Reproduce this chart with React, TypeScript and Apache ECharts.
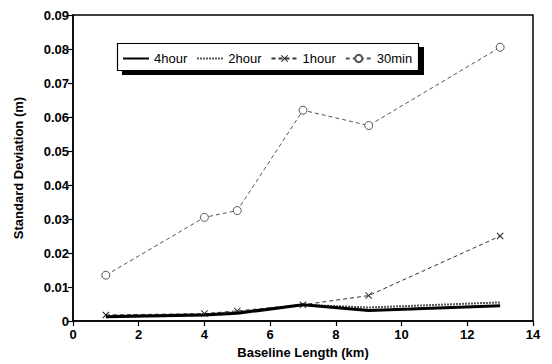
import React, { useEffect, useRef } from "react";
import * as echarts from "echarts";

const baseline = [1, 4, 5, 7, 9, 13];
const fourHour = [0.0013, 0.0018, 0.0023, 0.0048, 0.0031, 0.0045];
const twoHour = [0.0015, 0.002, 0.0026, 0.0048, 0.004, 0.0055];
const oneHour = [0.0018, 0.0022, 0.003, 0.0048, 0.0075, 0.025];
const thirtyMin = [0.0135, 0.0305, 0.0325, 0.062, 0.0575, 0.0805];
const seriesNames = ["4hour", "2hour", "1hour", "30min"];

const pairs = (ys: number[]) => baseline.map((x, i) => [x, ys[i]]);

const xSymbol = "path://M0,1L1,0L5,4L9,0L10,1L6,5L10,9L9,10L5,6L1,10L0,9L4,5Z";

export default function App() {
  const ref = useRef<HTMLDivElement>(null);
  useEffect(() => {
    if (!ref.current) return;
    const chart = echarts.init(ref.current, null, { renderer: "svg" });
    const font = "'Liberation Sans', Arial, sans-serif";
    chart.setOption({
      animation: false,
      backgroundColor: "#fff",
      textStyle: { fontFamily: font },
      grid: {
        left: 73,
        right: 19,
        top: 15,
        bottom: 40,
        show: true,
        borderColor: "#000",
        borderWidth: 1.5,
        backgroundColor: "transparent",
      },
      legend: {
        data: [
          { name: seriesNames[0], itemStyle: { opacity: 0 } },
          { name: seriesNames[1], itemStyle: { opacity: 0 } },
          { name: seriesNames[2] },
          { name: seriesNames[3] },
        ],
        left: 122,
        top: 52,
        padding: 0,
        itemWidth: 26,
        itemHeight: 9,
        itemGap: 9,
        z: 5,
        textStyle: { fontFamily: font, fontSize: 13, color: "#000" },
      },
      graphic: [
        {
          type: "rect",
          z: 1,
          shape: { x: 122, y: 47, width: 302, height: 28 },
          style: { fill: "#000" },
        },
        {
          type: "rect",
          z: 2,
          shape: { x: 117.5, y: 43.5, width: 301, height: 27 },
          style: { fill: "#fff", stroke: "#000", lineWidth: 1.2 },
        },
      ],
      xAxis: {
        type: "value",
        min: 0,
        max: 14,
        interval: 2,
        name: "Baseline Length (km)",
        nameLocation: "middle",
        nameGap: 21,
        nameTextStyle: { fontFamily: font, fontSize: 13, fontWeight: "bold", color: "#000" },
        axisLine: { show: true, onZero: false, lineStyle: { color: "#000", width: 1.5 } },
        axisTick: { show: true, length: 5, lineStyle: { color: "#000", width: 1.2 } },
        axisLabel: { fontFamily: font, fontSize: 13, fontWeight: "bold", color: "#000", margin: 7 },
        splitLine: { show: false },
      },
      yAxis: {
        type: "value",
        min: 0,
        max: 0.09,
        interval: 0.01,
        name: "Standard Deviation (m)",
        nameLocation: "middle",
        nameGap: 48,
        nameTextStyle: { fontFamily: font, fontSize: 13, fontWeight: "bold", color: "#000" },
        axisLine: { show: true, lineStyle: { color: "#000", width: 1.5 } },
        axisTick: { show: true, length: 5, lineStyle: { color: "#000", width: 1.2 } },
        axisLabel: {
          fontFamily: font,
          fontSize: 13,
          fontWeight: "bold",
          color: "#000",
          margin: 4,
          formatter: (v: number) => (v === 0 ? "0" : v.toFixed(2)),
        },
        splitLine: { show: false },
      },
      series: [
        {
          name: seriesNames[0],
          type: "line",
          data: pairs(fourHour),
          symbol: "none",
          lineStyle: { color: "#000", width: 3, type: "solid" },
          itemStyle: { color: "#000" },
          z: 4,
        },
        {
          name: seriesNames[1],
          type: "line",
          data: pairs(twoHour),
          symbol: "none",
          lineStyle: { color: "#222", width: 2, type: [1.5, 1.5] },
          itemStyle: { color: "#222" },
          z: 3,
        },
        {
          name: seriesNames[2],
          type: "line",
          data: pairs(oneHour),
          symbol: xSymbol,
          symbolSize: 7,
          lineStyle: { color: "#333", width: 1, type: [4, 3] },
          itemStyle: { color: "#222" },
          z: 3,
        },
        {
          name: seriesNames[3],
          type: "line",
          data: pairs(thirtyMin),
          symbol: "circle",
          symbolSize: 8,
          lineStyle: { color: "#555", width: 1, type: [4, 3] },
          itemStyle: { color: "#fff", borderColor: "#555", borderWidth: 1 },
          z: 3,
        },
      ],
    });
    return () => chart.dispose();
  }, []);
  return <div ref={ref} style={{ width: 552, height: 364, position: "absolute", left: 0, top: 0 }} />;
}
